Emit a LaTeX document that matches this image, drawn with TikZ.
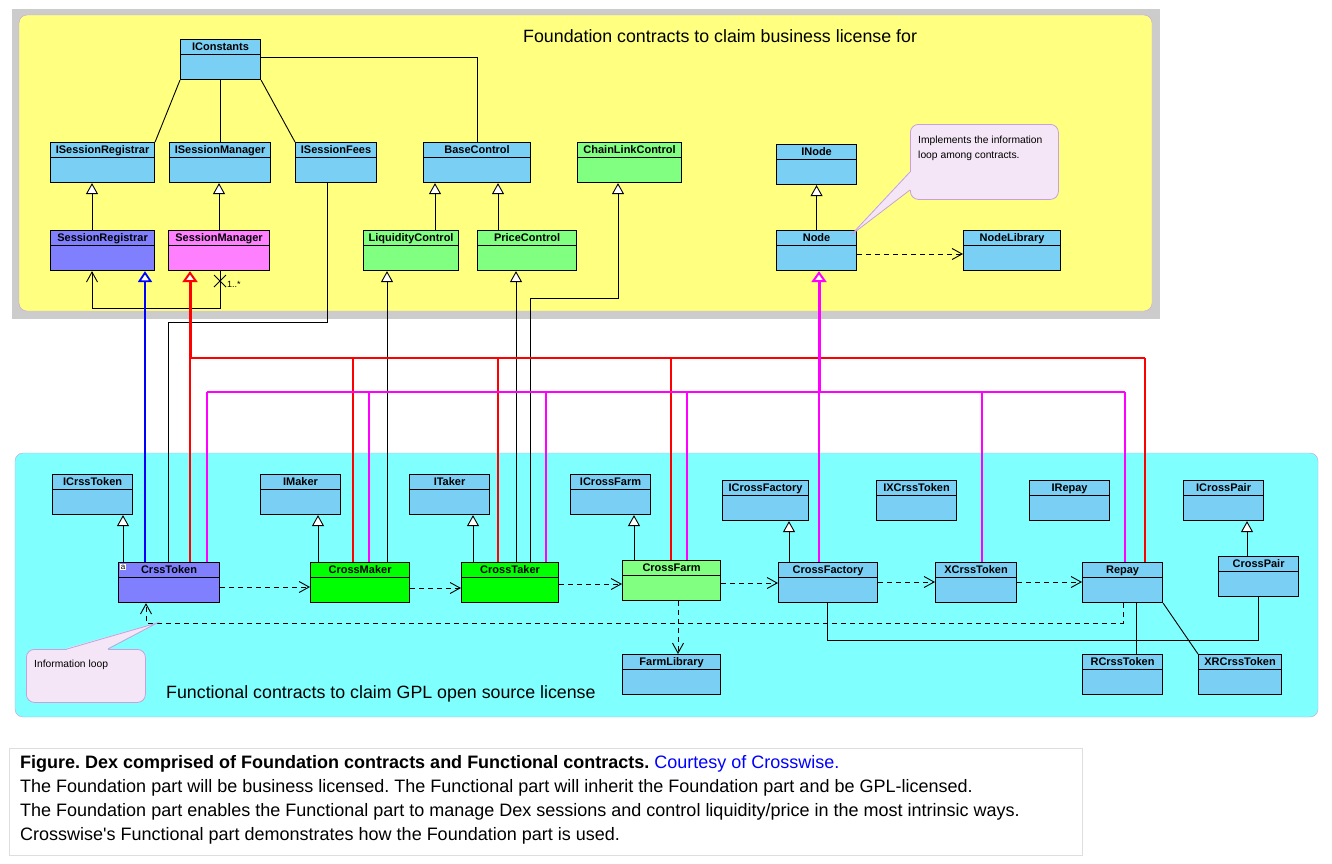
\documentclass[tikz,border=0pt]{standalone}
\usepackage{fontspec}
\setmainfont{Liberation Sans}
\newfontfamily\capfont{Liberation Sans}
\usepackage{tikz}
\usetikzlibrary{arrows.meta}
\frenchspacing
\definecolor{DexSky}{HTML}{7ACFF5}
\definecolor{DexIndigo}{HTML}{8080FF}
\definecolor{DexPink}{HTML}{FF80FF}
\definecolor{DexMint}{HTML}{80FF80}
\definecolor{DexLime}{HTML}{00FF00}
\definecolor{DexYellow}{HTML}{FFFF80}
\definecolor{DexCyan}{HTML}{80FFFF}
\definecolor{DexGray}{HTML}{CCCCCC}
\definecolor{DexLilac}{HTML}{C8A0DC}
\definecolor{DexNote}{HTML}{F4E6F6}
\definecolor{DexRed}{HTML}{FF0000}
\definecolor{DexMagenta}{HTML}{FF00FF}
\definecolor{DexBlueLine}{HTML}{0000FF}
\tikzset{
  cls/.style={draw=black, line width=1.1pt, inner sep=0pt, anchor=north west,
    minimum height=40pt,
    path picture={\draw[line width=1pt]
      ([yshift=-15pt]path picture bounding box.north west) --
      ([yshift=-15pt]path picture bounding box.north east);}},
  clsname/.style={anchor=base, yshift=-11.8pt, inner sep=0pt,
    font=\fontsize{11}{12}\selectfont\bfseries},
  wire/.style={line width=0.9pt},
  inh/.style={line width=0.9pt, -{Triangle[fill=white,length=11pt,width=12pt]}},
  nav/.style={-{Straight Barb[length=10pt,width=11pt]}},
  dep/.style={line width=0.9pt, dash pattern=on 5pt off 4pt,
    -{Straight Barb[length=10pt,width=11pt]}},
  paneltitle/.style={anchor=west, inner sep=0pt, font=\fontsize{17.8}{20}\selectfont},
  notebox/.style={draw=DexLilac, fill=DexNote, line width=0.8pt,
    rounded corners=8pt, anchor=north west, inner sep=0pt},
  notetext/.style={anchor=north west, inner sep=0pt, align=left,
    font=\fontsize{10.3}{15}\selectfont},
  captext/.style={anchor=base west, inner sep=0pt, font=\fontsize{18}{20}\selectfont},
}
\begin{document}
\begin{tikzpicture}[x=1pt, y=-1pt]
  \useasboundingbox[fill=white] (0,0) rectangle (1332,863);
  % panels
  \fill[DexGray] (12,9) rectangle (1160,319);
  \draw[DexLilac, fill=DexYellow, rounded corners=8pt] (19,15) rectangle (1152,311);
  \draw[DexLilac, fill=DexCyan, rounded corners=8pt] (15,453) rectangle (1318,717);
  \node[paneltitle] (foundTitle) at (523,36) {Foundation contracts to claim business license for};
  \node[paneltitle] (funcTitle) at (166,694) {Functional contracts to claim GPL open source license};

  % foundation classes
  \node[cls, fill=DexSky, minimum width=80pt, label={[clsname]north:IConstants}] (IConstants) at (180,39) {};
  \node[cls, fill=DexSky, minimum width=104pt, label={[clsname]north:ISessionRegistrar}] (ISessionRegistrar) at (50,142) {};
  \node[cls, fill=DexSky, minimum width=101pt, label={[clsname]north:ISessionManager}] (ISessionManager) at (169,142) {};
  \node[cls, fill=DexSky, minimum width=81pt, label={[clsname]north:ISessionFees}] (ISessionFees) at (295,142) {};
  \node[cls, fill=DexSky, minimum width=107pt, label={[clsname]north:BaseControl}] (BaseControl) at (423,142) {};
  \node[cls, fill=DexMint, minimum width=104pt, label={[clsname]north:ChainLinkControl}] (ChainLinkControl) at (577,142) {};
  \node[cls, fill=DexSky, minimum width=80pt, label={[clsname]north:INode}] (INode) at (776,144) {};
  \node[cls, fill=DexIndigo, minimum width=104pt, label={[clsname]north:SessionRegistrar}] (SessionRegistrar) at (50,230) {};
  \node[cls, fill=DexPink, minimum width=101pt, label={[clsname]north:SessionManager}] (SessionManager) at (168,230) {};
  \node[cls, fill=DexMint, minimum width=95pt, label={[clsname]north:LiquidityControl}] (LiquidityControl) at (363,230) {};
  \node[cls, fill=DexMint, minimum width=99pt, label={[clsname]north:PriceControl}] (PriceControl) at (477,230) {};
  \node[cls, fill=DexSky, minimum width=80pt, label={[clsname]north:Node}] (Node) at (776,230) {};
  \node[cls, fill=DexSky, minimum width=97pt, label={[clsname]north:NodeLibrary}] (NodeLibrary) at (963,230) {};

  % functional classes
  \node[cls, fill=DexSky, minimum width=80pt, label={[clsname]north:ICrssToken}] (ICrssToken) at (52,474) {};
  \node[cls, fill=DexSky, minimum width=80pt, label={[clsname]north:IMaker}] (IMaker) at (260,474) {};
  \node[cls, fill=DexSky, minimum width=80pt, label={[clsname]north:ITaker}] (ITaker) at (409,474) {};
  \node[cls, fill=DexSky, minimum width=80pt, label={[clsname]north:ICrossFarm}] (ICrossFarm) at (570,474) {};
  \node[cls, fill=DexSky, minimum width=86pt, label={[clsname]north:ICrossFactory}] (ICrossFactory) at (722,480) {};
  \node[cls, fill=DexSky, minimum width=80pt, label={[clsname]north:IXCrssToken}] (IXCrssToken) at (876,480) {};
  \node[cls, fill=DexSky, minimum width=80pt, label={[clsname]north:IRepay}] (IRepay) at (1029,480) {};
  \node[cls, fill=DexSky, minimum width=80pt, label={[clsname]north:ICrossPair}] (ICrossPair) at (1183,480) {};
  \node[cls, fill=DexIndigo, minimum width=101pt, label={[clsname]north:CrssToken}] (CrssToken) at (118,562) {};
  \node[cls, fill=DexLime, minimum width=99pt, label={[clsname]north:CrossMaker}] (CrossMaker) at (310,562) {};
  \node[cls, fill=DexLime, minimum width=97pt, label={[clsname]north:CrossTaker}] (CrossTaker) at (461,562) {};
  \node[cls, fill=DexMint, minimum width=98pt, label={[clsname]north:CrossFarm}] (CrossFarm) at (622,560) {};
  \node[cls, fill=DexSky, minimum width=99pt, label={[clsname]north:CrossFactory}] (CrossFactory) at (778,562) {};
  \node[cls, fill=DexSky, minimum width=81pt, label={[clsname]north:XCrssToken}] (XCrssToken) at (935,562) {};
  \node[cls, fill=DexSky, minimum width=80pt, label={[clsname]north:Repay}] (Repay) at (1082,562) {};
  \node[cls, fill=DexSky, minimum width=80pt, label={[clsname]north:CrossPair}] (CrossPair) at (1218,556) {};
  \node[cls, fill=DexSky, minimum width=98pt, label={[clsname]north:FarmLibrary}] (FarmLibrary) at (622,654) {};
  \node[cls, fill=DexSky, minimum width=80pt, label={[clsname]north:RCrssToken}] (RCrssToken) at (1082,654) {};
  \node[cls, fill=DexSky, minimum width=83pt, label={[clsname]north:XRCrssToken}] (XRCrssToken) at (1198,654) {};
  \node[fill=white, inner sep=0.6pt, anchor=north west, font=\fontsize{8}{8}\selectfont] (crssIcon) at ([shift={(2,2)}]CrssToken.north west) {a};

  % foundation links
  \draw[wire] (IConstants.south west) -- (ISessionRegistrar.north east);
  \draw[wire] (IConstants.south) -- (ISessionManager.north -| IConstants.south);
  \draw[wire] (IConstants.south east) -- (ISessionFees.north west);
  \draw[wire] (IConstants.east |- 0,57) -| (BaseControl.north -| 477,0);
  \draw[inh] (SessionRegistrar.north -| 92,0) -- (ISessionRegistrar.south -| 92,0);
  \draw[inh] (SessionManager.north -| 219,0) -- (ISessionManager.south -| 219,0);
  \draw[inh] (LiquidityControl.north -| 435,0) -- (BaseControl.south -| 435,0);
  \draw[inh] (PriceControl.north -| 498,0) -- (BaseControl.south -| 498,0);
  \draw[inh] (Node.north) -- (INode.south);
  \draw[dep] (Node.east |- 0,254) -- (NodeLibrary.west |- 0,254);
  \coordinate (assocBend) at (220,308);
  \draw[wire, nav] (SessionManager.south -| assocBend) -- (assocBend) -| (SessionRegistrar.south -| 92,0);
  \draw[line width=0.8pt] (214,275) -- (226,287) (214,287) -- (226,275);
  \node[anchor=west, inner sep=0pt, font=\fontsize{9}{9}\selectfont] (assocMult) at (227,284) {1..*};

  % functional links
  \draw[inh] (CrssToken.north -| 123,0) -- (ICrssToken.south -| 123,0);
  \draw[inh] (CrossMaker.north -| 318,0) -- (IMaker.south -| 318,0);
  \draw[inh] (CrossTaker.north -| 473,0) -- (ITaker.south -| 473,0);
  \draw[inh] (CrossFarm.north -| 634,0) -- (ICrossFarm.south -| 634,0);
  \draw[inh] (CrossFactory.north -| 789,0) -- (ICrossFactory.south -| 789,0);
  \draw[inh] (CrossPair.north -| 1247,0) -- (ICrossPair.south -| 1247,0);
  \draw[dep] (CrssToken.east |- 0,587) -- (CrossMaker.west |- 0,587);
  \draw[dep] (CrossMaker.east |- 0,588) -- (CrossTaker.west |- 0,588);
  \draw[dep] (CrossTaker.east |- 0,584) -- (CrossFarm.west |- 0,584);
  \draw[dep] (CrossFarm.east |- 0,583) -- (CrossFactory.west |- 0,583);
  \draw[dep] (CrossFactory.east |- 0,582) -- (XCrssToken.west |- 0,582);
  \draw[dep] (XCrssToken.east |- 0,582) -- (Repay.west |- 0,582);
  \draw[dep] (CrossFarm.south -| 678,0) -- (FarmLibrary.north -| 678,0);
  \coordinate (loopR) at (1123,623);
  \coordinate (loopL) at (146,623);
  \draw[dep] (Repay.south -| loopR) -- (loopR) -- (loopL) -- (CrssToken.south -| loopL);
  \draw[wire] (Repay.south -| 1136,0) -- (RCrssToken.north -| 1136,0);
  \draw[wire] (Repay.south east) -- (XRCrssToken.north west);
  \coordinate (pairBend) at (827,640);
  \draw[wire] (CrossFactory.south -| pairBend) -- (pairBend) -| (CrossPair.south -| 1258,0);

  % links across the panels
  \coordinate (feesBendA) at (327,322);
  \coordinate (feesBendB) at (168,322);
  \draw[wire] (ISessionFees.south -| feesBendA) -- (feesBendA) -- (feesBendB) -- (CrssToken.north -| feesBendB);
  \draw[inh] (CrossMaker.north -| 387,0) -- (LiquidityControl.south -| 387,0);
  \draw[inh] (CrossTaker.north -| 516,0) -- (PriceControl.south -| 516,0);
  \coordinate (chainBend) at (530,298);
  \draw[inh] (CrossTaker.north -| chainBend) -- (chainBend) -| (ChainLinkControl.south -| 618,0);
  \draw[DexBlueLine, line width=2pt, -{Triangle[fill=white,length=11pt,width=14pt,line width=1.8pt]}]
    (CrssToken.north -| 145,0) -- (SessionRegistrar.south -| 145,0);
  % red bus
  \coordinate (redL) at (190,358);
  \coordinate (redR) at (1145,358);
  \draw[DexRed, line width=2.4pt] (redL) -- (redR);
  \draw[DexRed, line width=3pt, -{Triangle[fill=white,length=11pt,width=15pt,line width=2pt]}]
    (redL) -- (SessionManager.south -| redL);
  \draw[DexRed, line width=1.8pt] (CrssToken.north -| redL) -- (redL);
  \draw[DexRed, line width=1.8pt] (CrossMaker.north -| 353,0) |- (redL);
  \draw[DexRed, line width=1.8pt] (CrossTaker.north -| 498,0) |- (redL);
  \draw[DexRed, line width=1.8pt] (CrossFarm.north -| 671,0) |- (redL);
  \draw[DexRed, line width=1.8pt] (Repay.north -| redR) -- (redR);
  % magenta bus
  \coordinate (magL) at (207,392);
  \coordinate (magR) at (1125,392);
  \coordinate (magHub) at (819,392);
  \draw[DexMagenta, line width=2.2pt] (magL) -- (magR);
  \draw[DexMagenta, line width=3pt, -{Triangle[fill=white,length=11pt,width=15pt,line width=2pt]}]
    (magHub) -- (Node.south -| magHub);
  \draw[DexMagenta, line width=1.8pt] (CrssToken.north -| magL) -- (magL);
  \draw[DexMagenta, line width=1.8pt] (CrossMaker.north -| 369,0) |- (magL);
  \draw[DexMagenta, line width=1.8pt] (CrossTaker.north -| 546,0) |- (magL);
  \draw[DexMagenta, line width=1.8pt] (CrossFarm.north -| 687,0) |- (magL);
  \draw[DexMagenta, line width=1.8pt] (CrossFactory.north -| magHub) -- (magHub);
  \draw[DexMagenta, line width=1.8pt] (XCrssToken.north -| 982,0) |- (magR);
  \draw[DexMagenta, line width=1.8pt] (Repay.north -| magR) -- (magR);

  % notes
  \node[notebox, minimum width=148pt, minimum height=75pt] (noteNode) at (910,124) {};
  \coordinate (noteTip) at (851,235);
  \fill[DexNote] ([shift={(2,48)}]noteNode.north west) -- ([shift={(-1,48)}]noteNode.north west) -- (noteTip)
    -- ([shift={(-1,66)}]noteNode.north west) -- ([shift={(2,66)}]noteNode.north west) -- cycle;
  \draw[DexLilac, line width=0.8pt] ([yshift=-48pt]noteNode.north west) -- (noteTip) -- ([yshift=-66pt]noteNode.north west);
  \node[notetext] (noteNodeText) at ([shift={(8,11.5)}]noteNode.north west) {Implements the information\\loop among contracts.};
  \node[notebox, minimum width=119pt, minimum height=53pt] (noteLoop) at (26,649) {};
  \coordinate (loopTip) at (157,623);
  \fill[DexNote] ([shift={(41,2)}]noteLoop.north west) -- ([shift={(41,-1)}]noteLoop.north west) -- (loopTip)
    -- ([shift={(82,-1)}]noteLoop.north west) -- ([shift={(82,2)}]noteLoop.north west) -- cycle;
  \draw[DexLilac, line width=0.8pt] ([xshift=41pt]noteLoop.north west) -- (loopTip) -- ([xshift=82pt]noteLoop.north west);
  \node[notetext] (noteLoopText) at ([shift={(8,10.5)}]noteLoop.north west) {Information loop};

  % caption
  \draw[black!13, fill=white] (9,748) rectangle (1082,855);
  \node[captext] (capLineA) at (20,768) {\textbf{Figure. Dex comprised of Foundation contracts and Functional contracts.} \textcolor{DexBlueLine}{Courtesy of Crosswise.}};
  \node[captext] (capLineB) at (20,792) {The Foundation part will be business licensed. The Functional part will inherit the Foundation part and be GPL-licensed.};
  \node[captext] (capLineC) at (20,816) {The Foundation part enables the Functional part to manage Dex sessions and control liquidity/price in the most intrinsic ways.};
  \node[captext] (capLineD) at (20,840) {\capfont Crosswise's Functional part demonstrates how the Foundation part is used.};
\end{tikzpicture}
\end{document}
